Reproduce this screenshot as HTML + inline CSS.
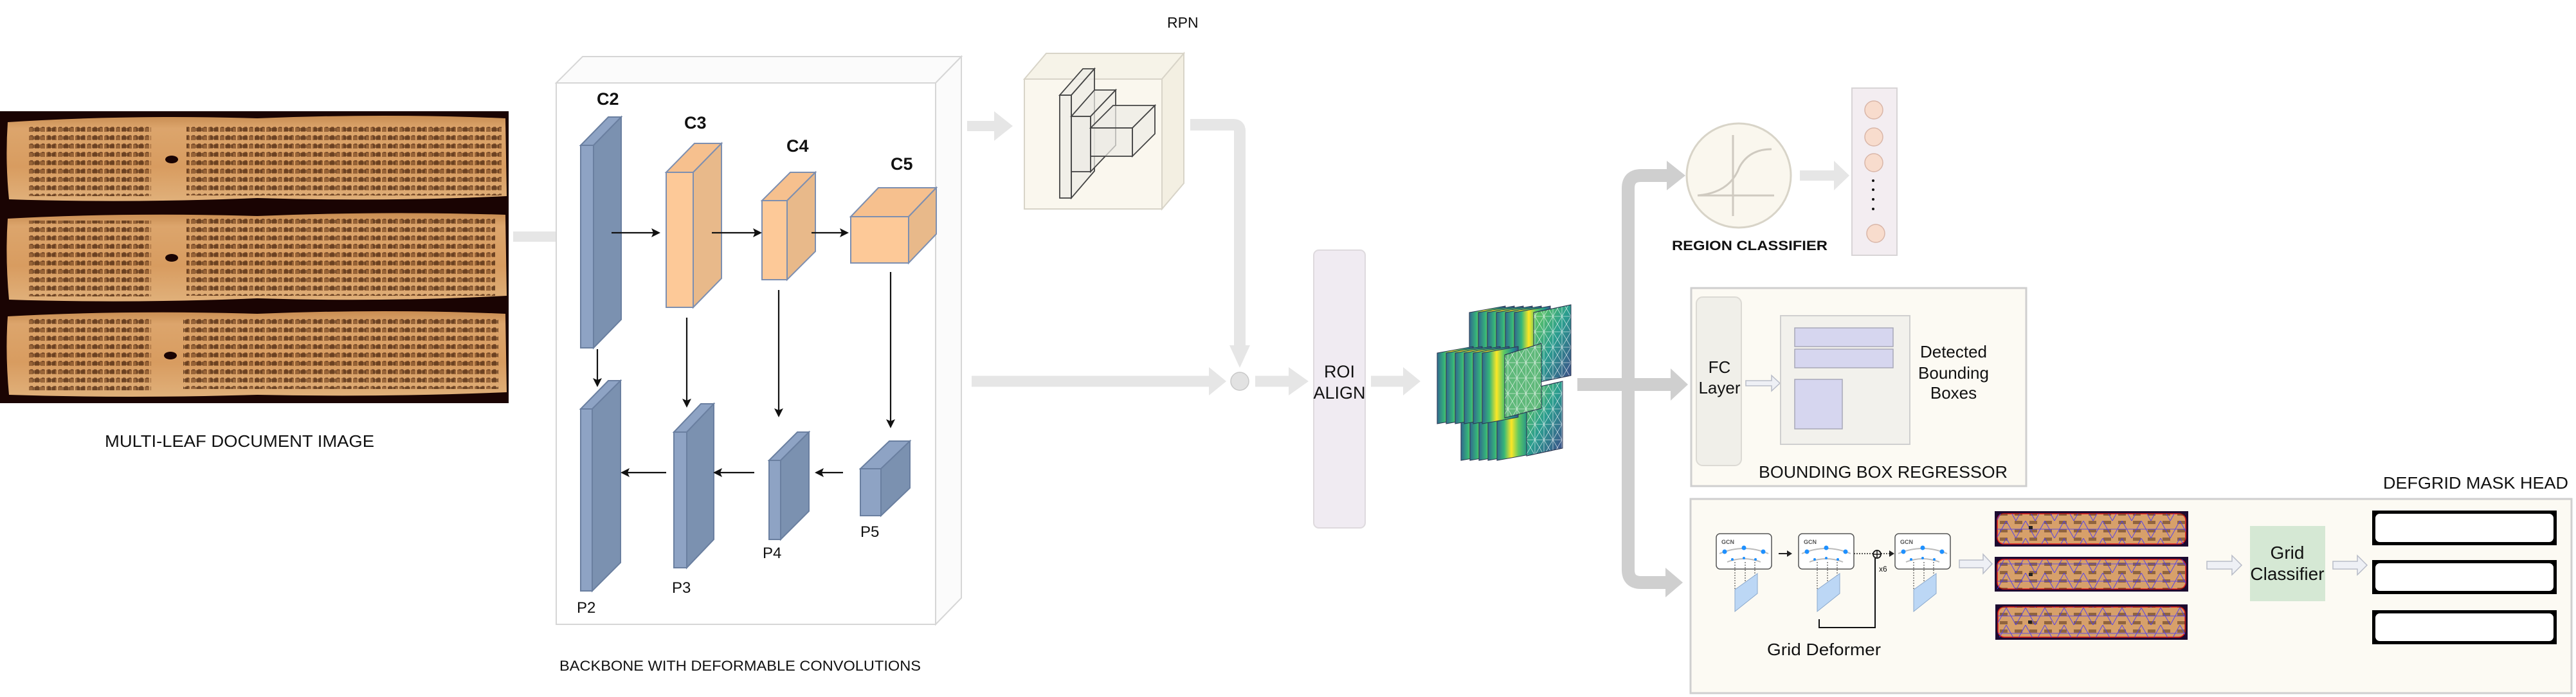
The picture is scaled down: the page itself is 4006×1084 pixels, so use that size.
<!DOCTYPE html>
<html><head><meta charset="utf-8"><style>
html,body{margin:0;padding:0;background:#fff}
svg{display:block}
text{font-family:"Liberation Sans",sans-serif;fill:#111}
</style></head><body>
<svg width="4006" height="1084" viewBox="0 0 4006 1084" xmlns="http://www.w3.org/2000/svg">
<defs>
<pattern id="txt" width="9" height="13" patternUnits="userSpaceOnUse">
<rect x="0" y="3" width="7" height="7" fill="#6a3a18" opacity="0.6"/>
<rect x="2" y="2" width="4" height="2" fill="#4a2410" opacity="0.5"/>
</pattern>
<pattern id="txt2" width="23" height="13" patternUnits="userSpaceOnUse">
<rect x="5" y="4" width="12" height="5" fill="#3a1a08" opacity="0.45"/>
</pattern>
<linearGradient id="leaf" x1="0" y1="0" x2="0" y2="1">
<stop offset="0" stop-color="#c98d52"/><stop offset="0.15" stop-color="#dca56c"/><stop offset="0.6" stop-color="#d89c60"/><stop offset="1" stop-color="#e0b07a"/>
</linearGradient>
<linearGradient id="vir" x1="0" y1="0" x2="1" y2="0">
<stop offset="0" stop-color="#31688e"/><stop offset="0.2" stop-color="#35b779"/><stop offset="0.4" stop-color="#fde725"/><stop offset="0.6" stop-color="#5ec962"/><stop offset="0.85" stop-color="#21918c"/><stop offset="1" stop-color="#3b528b"/>
</linearGradient>
<linearGradient id="vir2" x1="0" y1="0" x2="1" y2="1">
<stop offset="0" stop-color="#6cce59"/><stop offset="0.5" stop-color="#2a9d8f"/><stop offset="1" stop-color="#3e4a89"/>
</linearGradient>
<pattern id="tri" width="14" height="24" patternUnits="userSpaceOnUse">
<path d="M0 0 L14 24 M14 0 L0 24 M7 0 V24 M0 12 H14" stroke="#fff" stroke-width="0.8" opacity="0.7"/>
</pattern>
<pattern id="mesh" width="30" height="27" patternUnits="userSpaceOnUse">
<path d="M0 0 L15 27 L30 0 M0 13 H30" stroke="#4b3cf0" stroke-width="1.1" fill="none" opacity="0.85"/>
</pattern>
</defs>

<!-- Document image -->
<rect x="0" y="173" width="791" height="454" fill="#1a0403"/>
<g>
<path d="M12 190 Q200 178 400 184 Q600 176 786 184 L788 305 Q600 314 400 308 Q200 316 14 310 Q8 250 12 190Z" fill="url(#leaf)"/>
<rect x="45" y="195" width="190" height="110" fill="url(#txt)"/>
<rect x="290" y="192" width="490" height="112" fill="url(#txt)"/>
<rect x="45" y="195" width="190" height="110" fill="url(#txt2)"/>
<rect x="290" y="192" width="490" height="112" fill="url(#txt2)"/>
<ellipse cx="267" cy="248" rx="10" ry="6" fill="#1a0403"/>
<path d="M12 340 Q200 330 400 336 Q600 328 786 334 L788 460 Q600 470 400 464 Q200 472 14 466 Q8 400 12 340Z" fill="url(#leaf)"/>
<rect x="45" y="343" width="190" height="118" fill="url(#txt)"/>
<rect x="290" y="340" width="480" height="120" fill="url(#txt)"/>
<rect x="45" y="343" width="190" height="118" fill="url(#txt2)"/>
<rect x="290" y="340" width="480" height="120" fill="url(#txt2)"/>
<ellipse cx="267" cy="401" rx="10" ry="6" fill="#1a0403"/>
<path d="M12 492 Q200 482 400 488 Q600 480 786 488 L788 610 Q600 618 400 614 Q200 620 14 614 Q8 550 12 492Z" fill="url(#leaf)"/>
<rect x="45" y="495" width="190" height="112" fill="url(#txt)"/>
<rect x="285" y="493" width="490" height="112" fill="url(#txt)"/>
<rect x="45" y="495" width="190" height="112" fill="url(#txt2)"/>
<rect x="285" y="493" width="490" height="112" fill="url(#txt2)"/>
<ellipse cx="265" cy="553" rx="10" ry="6" fill="#1a0403"/>
</g>
<text x="163" y="695" font-size="26" textLength="419" lengthAdjust="spacingAndGlyphs">MULTI-LEAF DOCUMENT IMAGE</text>

<!-- arrow doc -> backbone -->
<path d="M798 360 H875 V345 L898 368 L875 391 V376 H798Z" fill="#e6e6e6"/>

<!-- Backbone box -->
<path d="M865 129 L906 88 H1495 L1455 129Z" fill="#fbfbfb" stroke="#d6d6d6" stroke-width="2"/>
<path d="M1455 129 L1495 88 V930 L1455 971Z" fill="#fbfbfb" stroke="#d6d6d6" stroke-width="2"/>
<rect x="865" y="129" width="590" height="842" fill="#fff" stroke="#d6d6d6" stroke-width="2"/>

<!-- C blocks -->
<g stroke="#6a7fa0" stroke-width="2">
<path d="M903 226 L946 182 H966 L923 226Z" fill="#8ea3c4"/><path d="M923 226 L966 182 V497 L923 541Z" fill="#7b91b0"/><rect x="903" y="226" width="20" height="315" fill="#8ea3c4"/>
</g>
<g stroke="#7d8fb0" stroke-width="2">
<path d="M1036 268 L1080 223 H1122 L1078 268Z" fill="#f6c08e"/><path d="M1078 268 L1122 223 V433 L1078 478Z" fill="#e8b98a"/><rect x="1036" y="268" width="42" height="210" fill="#fdc998"/>
<path d="M1185 312 L1229 268 H1268 L1224 312Z" fill="#f6c08e"/><path d="M1224 312 L1268 268 V391 L1224 435Z" fill="#e8b98a"/><rect x="1185" y="312" width="39" height="123" fill="#fdc998"/>
<path d="M1323 337 L1366 292 H1456 L1413 337Z" fill="#f6c08e"/><path d="M1413 337 L1456 292 V364 L1413 409Z" fill="#e8b98a"/><rect x="1323" y="337" width="90" height="72" fill="#fdc998"/>
</g>
<g font-size="27" font-weight="bold">
<text x="928" y="163">C2</text><text x="1064" y="200">C3</text><text x="1223" y="236">C4</text><text x="1385" y="264">C5</text>
</g>
<!-- P blocks -->
<g stroke="#6a7fa0" stroke-width="2">
<path d="M903 636 L946 592 H965 L921 636Z" fill="#8ea3c4"/><path d="M921 636 L965 592 V875 L921 919Z" fill="#7b91b0"/><rect x="903" y="636" width="18" height="283" fill="#8ea3c4"/>
<path d="M1048 672 L1090 628 H1110 L1068 672Z" fill="#8ea3c4"/><path d="M1068 672 L1110 628 V839 L1068 883Z" fill="#7b91b0"/><rect x="1048" y="672" width="20" height="211" fill="#8ea3c4"/>
<path d="M1196 716 L1240 672 H1258 L1214 716Z" fill="#8ea3c4"/><path d="M1214 716 L1258 672 V795 L1214 839Z" fill="#7b91b0"/><rect x="1196" y="716" width="18" height="123" fill="#8ea3c4"/>
<path d="M1338 729 L1383 686 H1415 L1370 729Z" fill="#8ea3c4"/><path d="M1370 729 L1415 686 V759 L1370 802Z" fill="#7b91b0"/><rect x="1338" y="729" width="32" height="73" fill="#8ea3c4"/>
</g>
<g font-size="24">
<text x="897" y="953">P2</text><text x="1045" y="922">P3</text><text x="1186" y="868">P4</text><text x="1338" y="835">P5</text>
</g>
<!-- black arrows -->
<g stroke="#111" stroke-width="2.2" fill="none">
<path d="M951 362 H1020 M1107 362 H1178 M1262 362 H1313"/>
<path d="M929 543 V595 M1068 494 V627 M1211 451 V642 M1385 423 V659"/>
<path d="M1311 735 H1274 M1173 735 H1116 M1036 735 H972"/>
</g>
<g fill="#111">
<path d="M1027 362 L1013 355 L1016 362 L1013 369Z"/><path d="M1185 362 L1171 355 L1174 362 L1171 369Z"/><path d="M1320 362 L1306 355 L1309 362 L1306 369Z"/>
<path d="M929 602 L922 588 L929 591 L936 588Z"/><path d="M1068 634 L1061 620 L1068 623 L1075 620Z"/><path d="M1211 649 L1204 635 L1211 638 L1218 635Z"/><path d="M1385 666 L1378 652 L1385 655 L1392 652Z"/>
<path d="M1267 735 L1281 728 L1278 735 L1281 742Z"/><path d="M1109 735 L1123 728 L1120 735 L1123 742Z"/><path d="M965 735 L979 728 L976 735 L979 742Z"/>
</g>
<text x="870" y="1043" font-size="22" textLength="562" lengthAdjust="spacingAndGlyphs">BACKBONE WITH DEFORMABLE CONVOLUTIONS</text>

<!-- RPN -->
<text x="1815" y="43" font-size="23">RPN</text>
<path d="M1504 188 H1546 V173 L1575 196 L1546 219 V204 H1504Z" fill="#e6e6e6"/>
<path d="M1593 123 L1627 83 H1841 L1807 123Z" fill="#f6f3e8" stroke="#d8d4c8" stroke-width="2"/>
<path d="M1807 123 L1841 83 V285 L1807 325Z" fill="#f3efe2" stroke="#d8d4c8" stroke-width="2"/>
<rect x="1593" y="123" width="214" height="202" fill="#faf7ee" stroke="#d8d4c8" stroke-width="2"/>
<g stroke="#444" stroke-width="1.8" fill="#ecebe6" fill-opacity="0.7">
<path d="M1648 148 L1684 107 H1702 L1666 148Z"/><path d="M1666 148 L1702 107 V266 L1666 308Z"/><rect x="1648" y="148" width="18" height="160"/>
<path d="M1666 181 L1702 140 H1735 L1696 181Z"/><path d="M1696 181 L1735 140 V226 L1696 267Z"/><rect x="1666" y="181" width="30" height="86"/>
<path d="M1696 199 L1731 164 H1796 L1761 199Z"/><path d="M1761 199 L1796 164 V208 L1761 243Z"/><rect x="1696" y="199" width="65" height="44"/>
</g>
<!-- RPN output -->
<path d="M1851 194 H1918 Q1928 194 1928 204 V540" stroke="#e6e6e6" stroke-width="18" fill="none"/>
<path d="M1912 537 H1944 L1928 572Z" fill="#e6e6e6"/>
<!-- backbone -> circle -->
<path d="M1511 593 H1885" stroke="#e6e6e6" stroke-width="17"/>
<path d="M1880 571 L1907 593 L1880 615Z" fill="#e6e6e6"/>
<circle cx="1928" cy="593" r="14" fill="#e2e2e2" stroke="#c8c8c8" stroke-width="1.5"/>
<path d="M1952 593 H2008" stroke="#e6e6e6" stroke-width="17"/>
<path d="M2004 571 L2035 593 L2004 615Z" fill="#e6e6e6"/>
<!-- ROI -->
<rect x="2043" y="389" width="80" height="432" rx="8" fill="#f0ebf2" stroke="#dedade" stroke-width="2"/>
<text x="2083" y="587" font-size="27" text-anchor="middle">ROI</text>
<text x="2083" y="620" font-size="27" text-anchor="middle">ALIGN</text>
<path d="M2132 593 H2185" stroke="#e6e6e6" stroke-width="17"/>
<path d="M2182 571 L2209 593 L2182 615Z" fill="#e6e6e6"/>

<!-- feature maps -->
<g stroke="#2a3550" stroke-width="1">
<path d="M2285 486 L2341 476 V586 L2285 596Z" fill="url(#vir)"/>
<path d="M2299 486 L2355 476 V586 L2299 596Z" fill="url(#vir)"/>
<path d="M2313 486 L2369 476 V586 L2313 596Z" fill="url(#vir)"/>
<path d="M2327 486 L2383 476 V586 L2327 596Z" fill="url(#vir)"/>
<path d="M2341 486 L2397 476 V586 L2341 596Z" fill="url(#vir)"/>
<path d="M2355 486 L2411 476 V586 L2355 596Z" fill="url(#vir)"/>
<path d="M2385 486 L2443 474 V584 L2385 596Z" fill="url(#vir2)"/>
<path d="M2385 486 L2443 474 V584 L2385 596Z" fill="url(#tri)"/>
<path d="M2272 606 L2328 596 V706 L2272 716Z" fill="url(#vir)"/>
<path d="M2286 606 L2342 596 V706 L2286 716Z" fill="url(#vir)"/>
<path d="M2300 606 L2356 596 V706 L2300 716Z" fill="url(#vir)"/>
<path d="M2314 606 L2370 596 V706 L2314 716Z" fill="url(#vir)"/>
<path d="M2328 606 L2384 596 V706 L2328 716Z" fill="url(#vir)"/>
<path d="M2374 606 L2430 593 V697 L2374 709Z" fill="url(#vir2)"/>
<path d="M2374 606 L2430 593 V697 L2374 709Z" fill="url(#tri)"/>
<path d="M2235 549 L2291 539 V649 L2235 659Z" fill="url(#vir)"/>
<path d="M2249 549 L2305 539 V649 L2249 659Z" fill="url(#vir)"/>
<path d="M2263 549 L2319 539 V649 L2263 659Z" fill="url(#vir)"/>
<path d="M2277 549 L2333 539 V649 L2277 659Z" fill="url(#vir)"/>
<path d="M2291 549 L2347 539 V649 L2291 659Z" fill="url(#vir)"/>
<path d="M2305 549 L2361 539 V649 L2305 659Z" fill="url(#vir)"/>
<path d="M2340 552 L2397 534 V635 L2340 650Z" fill="#5fb97a"/>
<path d="M2340 552 L2397 534 V635 L2340 650Z" fill="url(#tri)"/>
</g>

<!-- big branching arrows -->
<path d="M2453 598 H2600" stroke="#cfcfcf" stroke-width="20"/>
<path d="M2598 573 L2625 598 L2598 623Z" fill="#cfcfcf"/>
<path d="M2598 273 H2552 Q2532 273 2532 293 V886 Q2532 906 2552 906 H2598" stroke="#cfcfcf" stroke-width="20" fill="none"/>
<path d="M2592 250 L2621 273 L2592 296Z" fill="#cfcfcf"/>
<path d="M2590 883 L2617 906 L2590 929Z" fill="#cfcfcf"/>

<!-- Region classifier -->
<circle cx="2704" cy="273" r="81" fill="#faf7ee" stroke="#d8d4c8" stroke-width="3"/>
<path d="M2695 210 V336 M2640 304 H2759 M2640 304 Q2690 300 2705 260 Q2720 232 2755 232" stroke="#cfcac0" stroke-width="3" fill="none"/>
<text x="2600" y="389" font-size="21" font-weight="bold" textLength="242" lengthAdjust="spacingAndGlyphs">REGION CLASSIFIER</text>
<path d="M2799 265 H2852 V250 L2876 273 L2852 296 V281 H2799Z" fill="#e6e6e6"/>
<rect x="2880" y="137" width="70" height="260" fill="#f3edf1" stroke="#d8d4d6" stroke-width="2"/>
<g fill="#f8dccd" stroke="#d9b6a8" stroke-width="1.5">
<circle cx="2914" cy="171" r="14"/><circle cx="2914" cy="213" r="14"/><circle cx="2914" cy="253" r="14"/><circle cx="2917" cy="363" r="14"/>
</g>
<g fill="#111"><circle cx="2913" cy="281" r="2"/><circle cx="2913" cy="295" r="2"/><circle cx="2913" cy="310" r="2"/><circle cx="2913" cy="325" r="2"/></g>

<!-- BBox regressor -->
<rect x="2630" y="448" width="521" height="308" fill="#fcfaf3" stroke="#cfcfcf" stroke-width="3"/>
<rect x="2638" y="462" width="70" height="262" rx="10" fill="#f0efe9" stroke="#dcdad4" stroke-width="2"/>
<text x="2674" y="580" font-size="26" text-anchor="middle" fill="#333">FC</text>
<text x="2674" y="612" font-size="26" text-anchor="middle" fill="#333">Layer</text>
<path d="M2715 592 H2755 V584 L2768 596 L2755 608 V600 H2715Z" fill="#eef0f5" stroke="#b8bcc8" stroke-width="1.5"/>
<rect x="2769" y="491" width="201" height="200" fill="#f2f1ec" stroke="#cfcfcf" stroke-width="2"/>
<g fill="#d6d6ef" stroke="#a8a8b8" stroke-width="1.5">
<rect x="2791" y="510" width="153" height="29"/><rect x="2791" y="543" width="153" height="29"/><rect x="2791" y="590" width="74" height="77"/>
</g>
<g font-size="26" text-anchor="middle" fill="#222"><text x="3038" y="556">Detected</text><text x="3038" y="589">Bounding</text><text x="3038" y="620">Boxes</text></g>
<text x="2735" y="743" font-size="26" textLength="387" lengthAdjust="spacingAndGlyphs">BOUNDING BOX REGRESSOR</text>

<!-- DefGrid -->
<text x="3706" y="760" font-size="26" textLength="288" lengthAdjust="spacingAndGlyphs">DEFGRID MASK HEAD</text>
<rect x="2629" y="776" width="1370" height="302" fill="#fcfaf3" stroke="#cfcfcf" stroke-width="3"/>

<g transform="translate(2669,830)">
<rect width="86" height="55" rx="6" fill="#fff" stroke="#555" stroke-width="1.5"/>
<text x="8" y="16" font-size="9" font-weight="bold" style="fill:#555">GCN</text>
<path d="M5 31 Q43 15 81 31 M17 44 Q43 34 69 44" stroke="#bbb" stroke-width="2" fill="none"/>
<g fill="#1e90ff"><circle cx="13" cy="28" r="3.5"/><circle cx="43" cy="22" r="3.5"/><circle cx="73" cy="28" r="3.5"/><circle cx="25" cy="40" r="2"/><circle cx="43" cy="38" r="2"/><circle cx="61" cy="40" r="2"/></g>
<path d="M29 44 V108 M45 44 V100 M60 44 V90" stroke="#333" stroke-width="1" stroke-dasharray="2,2"/>
<path d="M29 87 L64 62 V93 L29 121Z" fill="#bcd7f5" stroke="#8aa8cc" stroke-width="1"/>
</g>
<g transform="translate(2797,830)">
<rect width="86" height="55" rx="6" fill="#fff" stroke="#555" stroke-width="1.5"/>
<text x="8" y="16" font-size="9" font-weight="bold" style="fill:#555">GCN</text>
<path d="M5 31 Q43 15 81 31 M17 44 Q43 34 69 44" stroke="#bbb" stroke-width="2" fill="none"/>
<g fill="#1e90ff"><circle cx="13" cy="28" r="3.5"/><circle cx="43" cy="22" r="3.5"/><circle cx="73" cy="28" r="3.5"/><circle cx="25" cy="40" r="2"/><circle cx="43" cy="38" r="2"/><circle cx="61" cy="40" r="2"/></g>
<path d="M29 44 V108 M45 44 V100 M60 44 V90" stroke="#333" stroke-width="1" stroke-dasharray="2,2"/>
<path d="M29 87 L64 62 V93 L29 121Z" fill="#bcd7f5" stroke="#8aa8cc" stroke-width="1"/>
</g>
<g transform="translate(2947,830)">
<rect width="86" height="55" rx="6" fill="#fff" stroke="#555" stroke-width="1.5"/>
<text x="8" y="16" font-size="9" font-weight="bold" style="fill:#555">GCN</text>
<path d="M5 31 Q43 15 81 31 M17 44 Q43 34 69 44" stroke="#bbb" stroke-width="2" fill="none"/>
<g fill="#1e90ff"><circle cx="13" cy="28" r="3.5"/><circle cx="43" cy="22" r="3.5"/><circle cx="73" cy="28" r="3.5"/><circle cx="25" cy="40" r="2"/><circle cx="43" cy="38" r="2"/><circle cx="61" cy="40" r="2"/></g>
<path d="M29 44 V108 M45 44 V100 M60 44 V90" stroke="#333" stroke-width="1" stroke-dasharray="2,2"/>
<path d="M29 87 L64 62 V93 L29 121Z" fill="#bcd7f5" stroke="#8aa8cc" stroke-width="1"/>
</g>
<path d="M2766 861 H2782" stroke="#222" stroke-width="2"/><path d="M2787 861 L2779 856 V866Z" fill="#222"/>
<path d="M2883 861 H2913 M2925 861 H2940" stroke="#222" stroke-width="1.5" stroke-dasharray="2,2"/>
<path d="M2946 861 L2938 856 V866Z" fill="#222"/>
<circle cx="2919" cy="862" r="6" fill="none" stroke="#111" stroke-width="1.8"/>
<path d="M2919 857 V867 M2914 862 H2924" stroke="#111" stroke-width="1.5"/>
<text x="2922" y="889" font-size="12">x6</text>
<path d="M2829 963 V976 H2916 V868" stroke="#111" stroke-width="2" fill="none"/>
<text x="2748" y="1019" font-size="26" textLength="177" lengthAdjust="spacingAndGlyphs">Grid Deformer</text>

<!-- hollow arrows -->
<g fill="#eef0f5" stroke="#b8bcc8" stroke-width="1.5">
<path d="M3047 871 H3084 V862 L3098 877 L3084 892 V883 H3047Z"/>
<path d="M3432 873 H3471 V864 L3486 879 L3471 894 V885 H3432Z"/>
<path d="M3628 873 H3666 V864 L3681 879 L3666 894 V885 H3628Z"/>
</g>

<!-- meshed leaves -->
<g>
<rect x="3102" y="795" width="301" height="55" fill="#1c0a30"/>
<rect x="3106" y="799" width="293" height="47" rx="10" fill="#d7a06a" stroke="#e01818" stroke-width="1.5"/>
<rect x="3106" y="799" width="293" height="47" fill="url(#txt2)"/>
<rect x="3106" y="799" width="293" height="47" fill="url(#mesh)"/>
<rect x="3102" y="866" width="301" height="54" fill="#1c0a30"/>
<rect x="3106" y="870" width="293" height="46" rx="10" fill="#d7a06a" stroke="#e01818" stroke-width="1.5"/>
<rect x="3106" y="870" width="293" height="46" fill="url(#txt2)"/>
<rect x="3106" y="870" width="293" height="46" fill="url(#mesh)"/>
<rect x="3103" y="940" width="299" height="55" fill="#1c0a30"/>
<rect x="3107" y="944" width="291" height="47" rx="10" fill="#d7a06a" stroke="#e01818" stroke-width="1.5"/>
<rect x="3107" y="944" width="291" height="47" fill="url(#txt2)"/>
<rect x="3107" y="944" width="291" height="47" fill="url(#mesh)"/>
<g fill="#222"><rect x="3155" y="818" width="6" height="5"/><rect x="3155" y="891" width="6" height="5"/><rect x="3154" y="965" width="6" height="5"/></g>
</g>

<!-- Grid classifier -->
<rect x="3499" y="818" width="117" height="117" fill="#d5e8d4"/>
<text x="3557" y="869" font-size="28" text-anchor="middle">Grid</text>
<text x="3557" y="902" font-size="28" text-anchor="middle">Classifier</text>

<!-- masks -->
<rect x="3689" y="794" width="287" height="54" fill="#000"/>
<rect x="3694" y="799" width="277" height="44" rx="7" fill="#fff"/>
<rect x="3689" y="871" width="287" height="53" fill="#000"/>
<rect x="3694" y="876" width="277" height="43" rx="7" fill="#fff"/>
<rect x="3689" y="949" width="287" height="53" fill="#000"/>
<rect x="3694" y="954" width="277" height="43" rx="7" fill="#fff"/>
</svg>
</body></html>
